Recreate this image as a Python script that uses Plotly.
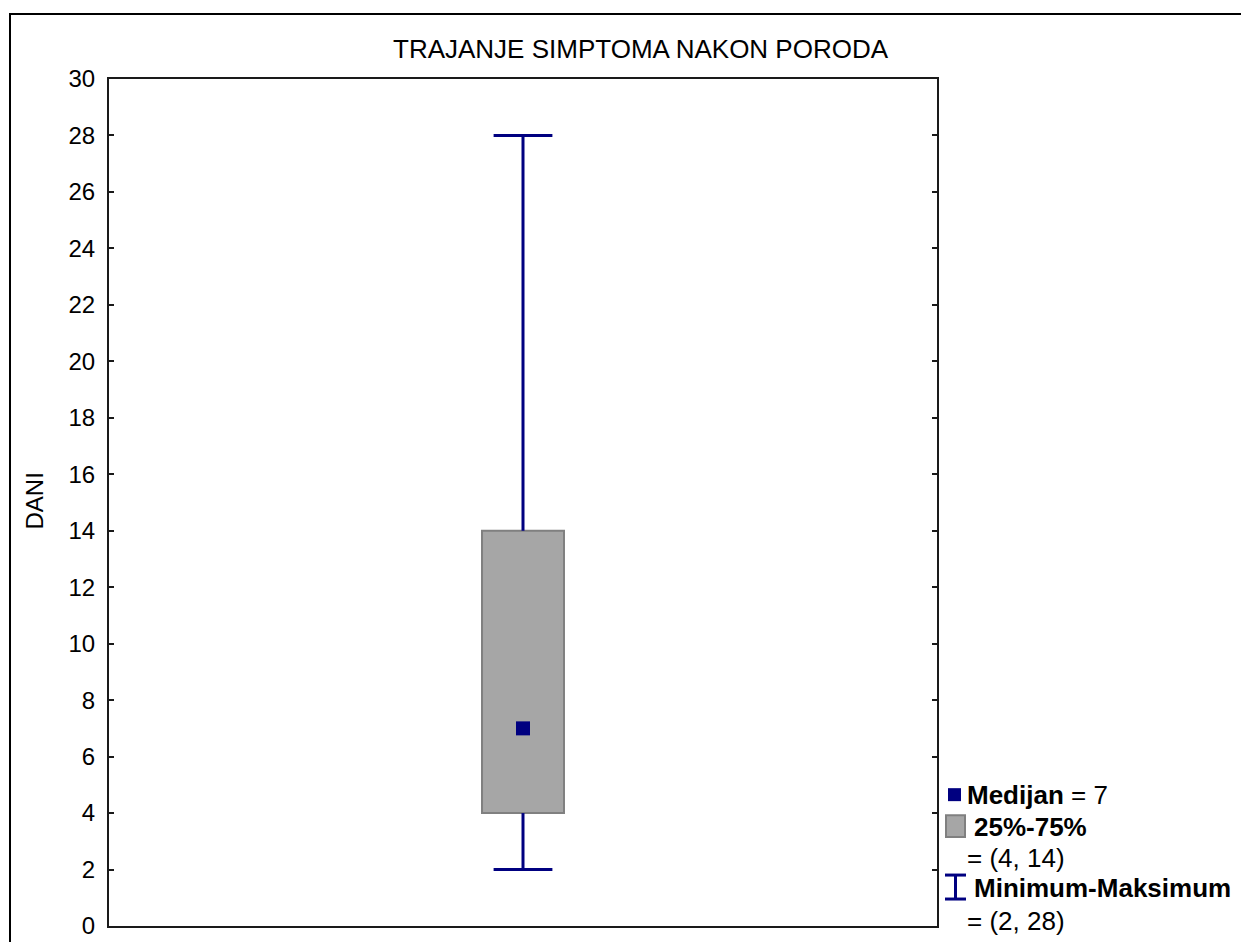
import plotly.graph_objects as go

# Data
category = ["TRAJANJE"]
median_vals = [7]
q1_vals = [4]
q3_vals = [14]
min_vals = [2]
max_vals = [28]

title_text = "TRAJANJE SIMPTOMA NAKON PORODA"
y_label = "DANI"
y_ticks = list(range(0, 31, 2))

# page offset from default body margin
OFF = 8
SHRINK = 9  # observed vertical shrink of the rendered plot area
W, H = 1249, 943
# plot area in page pixels (reference)
PL, PR, PT, PB = 109, 937, 79, 927
PW = PR - PL
PH = PB - PT
ML = PL - OFF
MT = PT - OFF
MR = W - ML - PW
MB = H - MT - (PH + SHRINK)


def px(x):
    return (x - PL) / PW


def py(y):
    return (PB - y) / PH


NAVY = "#000080"
FONT = "Liberation Sans, Arial, sans-serif"

x0 = 0
fig = go.Figure()

# box (25%-75%)
fig.add_trace(go.Bar(
    x=[x0], base=q1_vals, y=[q3_vals[0] - q1_vals[0]], width=0.099,
    marker=dict(color="#A6A6A6", line=dict(color="#808080", width=2)),
    showlegend=False, hoverinfo="skip",
))
# whiskers
fig.add_trace(go.Scatter(
    x=[x0, x0, None, x0, x0],
    y=[min_vals[0], q1_vals[0], None, q3_vals[0], max_vals[0]],
    mode="lines", line=dict(color=NAVY, width=3),
    showlegend=False, hoverinfo="skip",
))
# caps
fig.add_trace(go.Scatter(
    x=[x0, x0], y=[min_vals[0], max_vals[0]], mode="markers",
    marker=dict(symbol="line-ew", size=42, line=dict(color=NAVY, width=3)),
    showlegend=False, hoverinfo="skip",
))
# median
fig.add_trace(go.Scatter(
    x=[x0], y=median_vals, mode="markers",
    marker=dict(symbol="square", size=14, color=NAVY),
    showlegend=False, hoverinfo="skip",
))

shapes = []
# outer frame
shapes.append(dict(type="rect", xref="paper", yref="paper",
                   x0=px(10), x1=px(1290), y0=py(990), y1=py(14),
                   line=dict(color="black", width=2), fillcolor="rgba(0,0,0,0)"))
# legend symbols
shapes.append(dict(type="rect", xref="paper", yref="paper",
                   x0=px(948), x1=px(961), y0=py(802), y1=py(789),
                   line=dict(width=0), fillcolor=NAVY))
shapes.append(dict(type="rect", xref="paper", yref="paper",
                   x0=px(946), x1=px(965), y0=py(838), y1=py(816),
                   line=dict(color="#808080", width=2), fillcolor="#A6A6A6"))
shapes.append(dict(type="line", xref="paper", yref="paper",
                   x0=px(955.5), x1=px(955.5), y0=py(900), y1=py(876),
                   line=dict(color=NAVY, width=3)))
shapes.append(dict(type="line", xref="paper", yref="paper",
                   x0=px(945), x1=px(966), y0=py(876), y1=py(876),
                   line=dict(color=NAVY, width=3)))
shapes.append(dict(type="line", xref="paper", yref="paper",
                   x0=px(945), x1=px(966), y0=py(900), y1=py(900),
                   line=dict(color=NAVY, width=3)))

lf = dict(family=FONT, size=26, color="black")
annotations = [
    dict(text=title_text, xref="paper", yref="paper", x=px(641), y=py(49),
         showarrow=False, xanchor="center", yanchor="middle",
         font=dict(family=FONT, size=26, color="black")),
    dict(text=y_label, xref="paper", yref="paper", x=px(35), y=py(502),
         showarrow=False, textangle=-90, xanchor="center", yanchor="middle",
         font=dict(family=FONT, size=24, color="black")),
    dict(text=f"<b>Medijan</b> = {median_vals[0]}", xref="paper", yref="paper",
         x=px(965), y=py(796), showarrow=False, xanchor="left", yanchor="middle", font=lf),
    dict(text="<b>25%-75%</b>", xref="paper", yref="paper",
         x=px(972), y=py(828), showarrow=False, xanchor="left", yanchor="middle", font=lf),
    dict(text=f"= ({q1_vals[0]}, {q3_vals[0]})", xref="paper", yref="paper",
         x=px(965), y=py(859), showarrow=False, xanchor="left", yanchor="middle", font=lf),
    dict(text="<b>Minimum-Maksimum</b>", xref="paper", yref="paper",
         x=px(972), y=py(889), showarrow=False, xanchor="left", yanchor="middle", font=lf),
    dict(text=f"= ({min_vals[0]}, {max_vals[0]})", xref="paper", yref="paper",
         x=px(965), y=py(922), showarrow=False, xanchor="left", yanchor="middle", font=lf),
]

fig.update_layout(
    width=W, height=H,
    margin=dict(l=ML, r=MR, t=MT, b=MB, pad=0),
    paper_bgcolor="white", plot_bgcolor="white",
    showlegend=False,
    shapes=shapes, annotations=annotations,
    font=dict(family=FONT, color="black"),
)
fig.update_xaxes(range=[-0.5, 0.5], showticklabels=False, ticks="", showgrid=False,
                 zeroline=False, showline=True, linecolor="#1a1a1a", linewidth=2, mirror=True)
fig.update_yaxes(range=[0, 30], tickvals=y_ticks, ticks="inside", ticklen=5, tickwidth=2,
                 tickcolor="#1a1a1a", showgrid=False, zeroline=False, showline=True,
                 linecolor="#1a1a1a", linewidth=2, mirror="allticks",
                 tickfont=dict(family=FONT, size=24, color="black"), ticklabelstandoff=7)

fig.write_html("out.html")
